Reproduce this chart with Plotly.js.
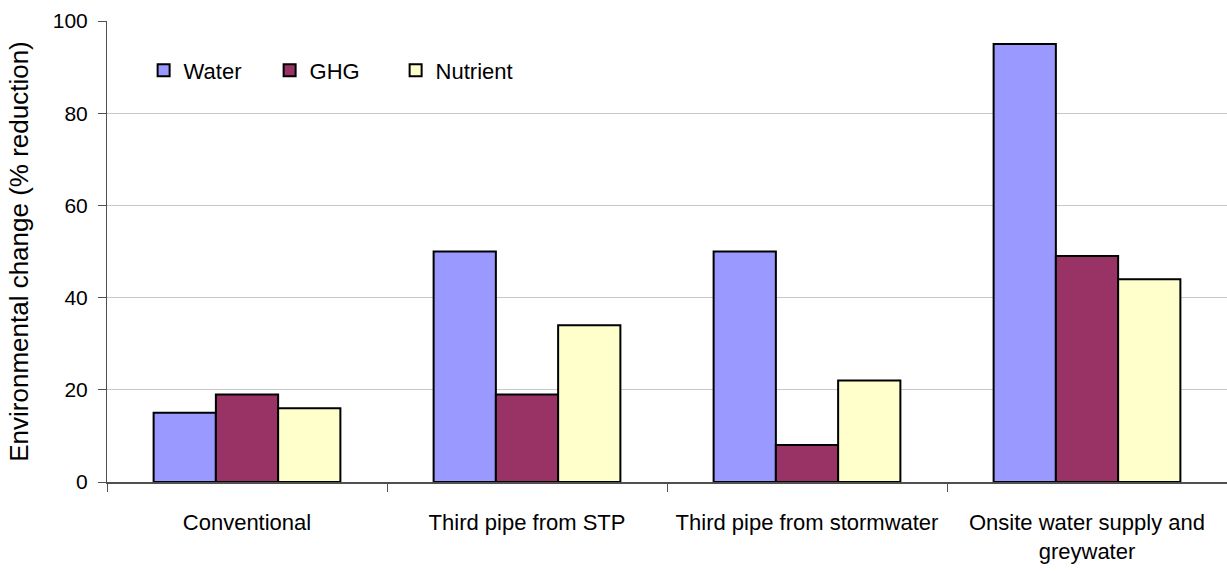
<!DOCTYPE html>
<html>
<head>
<meta charset="utf-8">
<script src="https://cdn.plot.ly/plotly-3.0.1.min.js"></script>
<style>
html,body{margin:0;padding:0;background:#fff;}
#chart{width:1227px;height:571px;}
</style>
</head>
<body>
<div id="chart"></div>
<script>
var categories = ["Conventional", "Third pipe from STP", "Third pipe from stormwater", "Onsite water supply and<br>greywater"];
var waterValues = [15, 50, 50, 95];
var ghgValues = [19, 19, 8, 49];
var nutrientValues = [16, 34, 22, 44];
var yTickVals = [0, 20, 40, 60, 80, 100];
var yTickText = ["0", "20", "40", "60", "80", "100"];

var FONT = "'Liberation Sans', Arial, Helvetica, sans-serif";

function barTrace(name, vals, color) {
  return {
    type: "bar",
    name: name,
    x: categories,
    y: vals,
    marker: {color: color, line: {color: "#000000", width: 2}},
    hoverinfo: "x+y+name"
  };
}

var data = [
  barTrace("Water", waterValues, "#9999FF"),
  barTrace("GHG", ghgValues, "#993366"),
  barTrace("Nutrient", nutrientValues, "#FFFFCC")
];

var layout = {
  width: 1227,
  height: 571,
  margin: {l: 107, r: 0, t: 21, b: 89, pad: 0},
  paper_bgcolor: "#ffffff",
  plot_bgcolor: "#ffffff",
  font: {family: FONT, size: 22, color: "#000000"},
  barmode: "group",
  bargap: 0.333,
  bargroupgap: 0,
  showlegend: true,
  legend: {
    orientation: "h",
    x: 0.0327,
    y: 0.893,
    xanchor: "left",
    yanchor: "middle",
    bgcolor: "rgba(0,0,0,0)",
    font: {family: FONT, size: 22, color: "#000000"},
    itemwidth: 30,
    entrywidth: 81,
    entrywidthmode: "pixels"
  },
  xaxis: {
    type: "category",
    showline: true,
    linecolor: "#505050",
    linewidth: 1.5,
    ticks: "outside",
    tickson: "boundaries",
    ticklen: 8,
    tickcolor: "#505050",
    tickwidth: 1,
    tickangle: 0,
    showgrid: false,
    zeroline: false,
    tickfont: {family: FONT, size: 22, color: "#000000"},
    automargin: false,
    ticklabelstandoff: 20
  },
  yaxis: {
    range: [0, 100],
    tickvals: yTickVals,
    ticktext: yTickText,
    showline: true,
    linecolor: "#505050",
    linewidth: 1,
    ticks: "outside",
    ticklen: 8,
    tickcolor: "#505050",
    showgrid: true,
    gridcolor: "#c8c8c8",
    gridwidth: 1,
    zeroline: false,
    tickfont: {family: FONT, size: 21, color: "#000000"},
    ticklabelstandoff: 6,
    automargin: false,
    title: {
      text: "Environmental change (% reduction)",
      font: {family: FONT, size: 26, color: "#000000"},
      standoff: 16
    }
  }
};

Plotly.newPlot("chart", data, layout, {displayModeBar: false, staticPlot: true});
</script>
</body>
</html>
